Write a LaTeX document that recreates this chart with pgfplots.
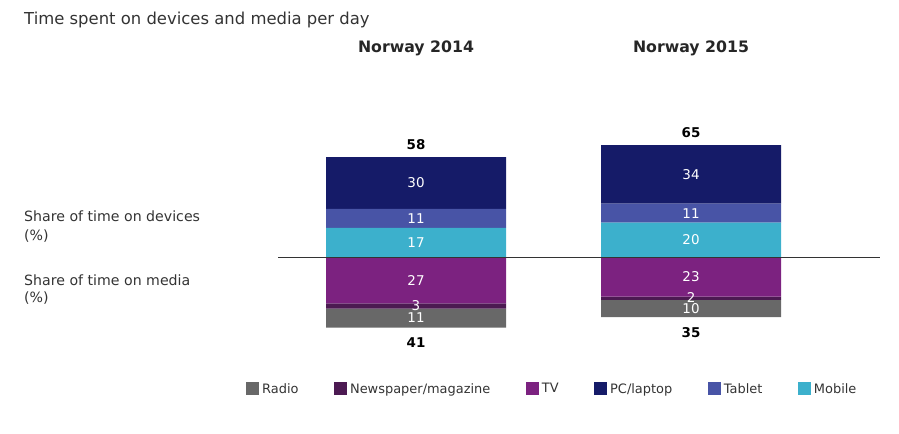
\documentclass[border=0pt]{standalone}
\usepackage{fontspec}
\setmainfont{DejaVu Sans}
\usepackage{pgfplots}
\pgfplotsset{compat=1.18}

\definecolor{radioc}{RGB}{104,104,104}
\definecolor{newsc}{RGB}{76,26,82}
\definecolor{tvc}{RGB}{124,34,128}
\definecolor{pcc}{RGB}{21,27,104}
\definecolor{tabletc}{RGB}{72,84,166}
\definecolor{mobilec}{RGB}{60,176,204}
\definecolor{txt}{RGB}{51,51,51}

\newcommand{\fs}[1]{\fontsize{#1}{#1}\selectfont}

\pgfplotsset{
  base/.style={
    at={(278bp,91bp)}, anchor=south west,
    scale only axis, width=602bp, height=223.6bp,
    xmin=-0.5018, xmax=1.687, ymin=-50, ymax=80,
    hide axis, clip=false
  },
  lbl/.style={only marks, mark=none, forget plot, nodes near coords,
    point meta=explicit symbolic,
    every node near coord/.style={anchor=center, text=#1, font=\fs{13.5}}},
}

\begin{document}
\begin{tikzpicture}
\path[use as bounding box] (0,0) rectangle (899bp,434bp);

% media (negative stack)
\begin{axis}[base, ybar stacked, bar width=180bp]
  \addplot[fill=tvc, draw=none] coordinates {(0,-27) (1,-23)};
  \addplot[fill=newsc, draw=none] coordinates {(0,-3) (1,-2)};
  \addplot[fill=radioc, draw=none] coordinates {(0,-11) (1,-10)};
\end{axis}

% devices (positive stack)
\begin{axis}[base, ybar stacked, bar width=180bp]
  \addplot[fill=mobilec, draw=none] coordinates {(0,17) (1,20)};
  \addplot[fill=tabletc, draw=none] coordinates {(0,11) (1,11)};
  \addplot[fill=pcc, draw=none] coordinates {(0,30) (1,34)};
\end{axis}

% labels, baseline, legend
\begin{axis}[base,
  legend columns=6,
  legend style={draw=none, fill=none, font=\fs{13}, text=txt,
    at={(0.4565,-0.2057)}, anchor=center,
    nodes={inner xsep=3bp},
    /tikz/every even column/.append style={column sep=32.5bp}},
  legend cell align=left,
  legend image code/.code={\fill[#1] (0bp,-6.5bp) rectangle (13bp,6.5bp);},
]
  \draw[line width=1bp, black!80] (axis cs:-0.5018,0) -- (axis cs:1.687,0);

  \addplot[lbl=white] coordinates {
    (0,43)[30] (0,22.5)[11] (0,8.5)[17] (0,-13.5)[27] (0,-28.5)[3] (0,-35.5)[11]
    (1,48)[34] (1,25.5)[11] (1,10)[20] (1,-11.5)[23] (1,-23.6)[2] (1,-30.2)[10]};
  \addplot[lbl=black, every node near coord/.append style={font=\fs{13.5}\bfseries, yshift=13bp}]
    coordinates {(0,58)[58] (1,65)[65]};
  \addplot[lbl=black, every node near coord/.append style={font=\fs{13.5}\bfseries, yshift=-15bp}]
    coordinates {(0,-41)[41] (1,-35)[35]};

  \addlegendimage{fill=radioc, draw=none}\addlegendentry{Radio}
  \addlegendimage{fill=newsc, draw=none}\addlegendentry{Newspaper/magazine}
  \addlegendimage{fill=tvc, draw=none}\addlegendentry{TV}
  \addlegendimage{fill=pcc, draw=none}\addlegendentry{PC/laptop}
  \addlegendimage{fill=tabletc, draw=none}\addlegendentry{Tablet}
  \addlegendimage{fill=mobilec, draw=none}\addlegendentry{Mobile}
\end{axis}

\node[anchor=base west, text=txt, font=\fs{16.5}, inner sep=0] at (24bp,409.5bp) {Time spent on devices and media per day};
\node[anchor=base, text=black!85, font=\fs{15.8}\bfseries, inner sep=0] at (416bp,381.5bp) {Norway 2014};
\node[anchor=base, text=black!85, font=\fs{15.8}\bfseries, inner sep=0] at (691bp,381.5bp) {Norway 2015};

\node[anchor=base west, text=txt, font=\fs{14.2}, inner sep=0] at (24bp,212.5bp) {Share of time on devices};
\node[anchor=base west, text=txt, font=\fs{14.2}, inner sep=0] at (24bp,193.5bp) {(\%)};
\node[anchor=base west, text=txt, font=\fs{14.2}, inner sep=0] at (24bp,148.5bp) {Share of time on media};
\node[anchor=base west, text=txt, font=\fs{14.2}, inner sep=0] at (24bp,131.5bp) {(\%)};
\end{tikzpicture}
\end{document}
